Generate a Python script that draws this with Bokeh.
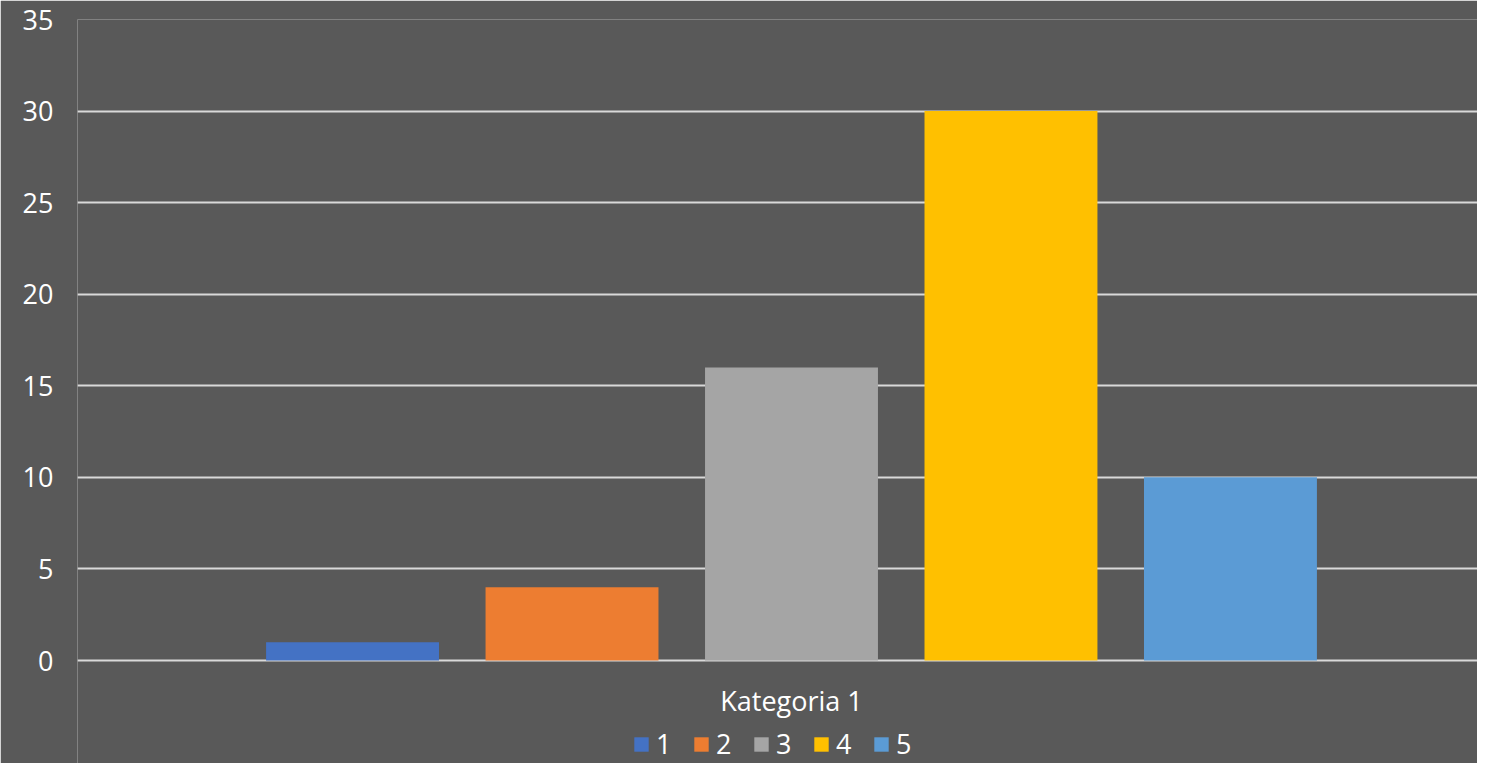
from bokeh.plotting import figure
from bokeh.models import ColumnDataSource, Range1d, FixedTicker, Legend, LegendItem
from bokeh.core.properties import value
from bokeh.transform import dodge
from bokeh.embed import file_html
from bokeh.resources import INLINE

categories = ["Kategoria 1"]
series = ["1", "2", "3", "4", "5"]
values = [1, 4, 16, 30, 10]
colors = ["#4472C4", "#ED7D31", "#A5A5A5", "#FFC000", "#5B9BD5"]
y_ticks = [0, 5, 10, 15, 20, 25, 30, 35]

BG = "#595959"
FONT = "Open Sans"

# frame spans to the bottom of the canvas; the region below 0 holds the category label and legend
p = figure(width=1477, height=763, output_backend="svg", toolbar_location=None,
           x_range=Range1d(0, 0.9804), y_range=Range1d(-5.624, 35),
           background_fill_color=BG, border_fill_color=BG,
           min_border_left=77, min_border_right=0, min_border_top=19, min_border_bottom=0)
p.outline_line_color = None

step = 0.1537
bar_w = 0.1211
items = []
for i, (s, v, c) in enumerate(zip(series, values, colors)):
    src = ColumnDataSource(dict(x=[0.5], top=[v]))
    r = p.vbar(x=dodge("x", (i - 2) * step), top="top", bottom=0, width=bar_w,
               source=src, fill_color=c, line_color=None)
    items.append(LegendItem(label=s, renderers=[r]))

# category label under the bars
cat_src = ColumnDataSource(dict(x=[0.5], y=[-2.18], label=categories))
p.text(x="x", y="y", text="label", source=cat_src, text_align="center",
       text_baseline="middle", text_color="#FFFFFF", text_font=value(FONT),
       text_font_size="27px")

p.xaxis.visible = False
p.xgrid.grid_line_color = None
p.ygrid.grid_line_color = "#D9D9D9"
p.ygrid.grid_line_width = 2
p.ygrid.level = "underlay"

p.yaxis.ticker = FixedTicker(ticks=y_ticks)
ax = p.yaxis[0]
ax.axis_line_color = None
ax.major_tick_line_color = None
ax.minor_tick_line_color = None
ax.major_tick_out = 0
ax.minor_tick_out = 0
ax.major_label_text_color = "#FFFFFF"
ax.major_label_text_font = FONT
ax.major_label_text_font_size = "27px"
ax.major_label_standoff = 24

legend = Legend(items=items, orientation="horizontal", location=(555, 1),
                background_fill_alpha=0, border_line_color=None,
                label_text_color="#FFFFFF", label_text_font=FONT,
                label_text_font_size="27px",
                glyph_width=18, glyph_height=18, label_standoff=6,
                spacing=16, padding=0, margin=0)
p.add_layout(legend, "center")

open("out.html", "w").write(file_html(p, INLINE))
